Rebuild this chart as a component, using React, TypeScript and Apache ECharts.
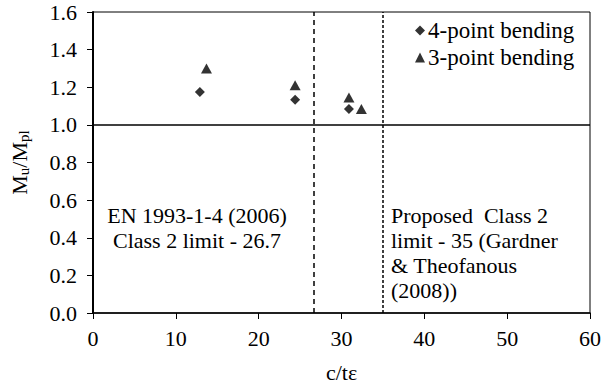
import React, { useEffect, useRef } from "react";
import * as echarts from "echarts";

const fourPointX = [12.9, 24.4, 30.9];
const fourPointY = [1.175, 1.133, 1.084];
const threePointX = [13.7, 24.4, 30.9, 32.4];
const threePointY = [1.30, 1.21, 1.145, 1.084];
const referenceY = 1.0;
const enLimit = 26.7;
const proposedLimit = 35;
const xTicks = { min: 0, max: 60, interval: 10 };
const yTicks = { min: 0, max: 1.6, interval: 0.2 };
const leftNote = ["EN 1993-1-4 (2006)", "Class 2 limit - 26.7"];
const rightNote = ["Proposed  Class 2", "limit - 35 (Gardner", "& Theofanous", "(2008))"];

const SERIF = "Liberation Serif";

export default function App() {
  const ref = useRef<HTMLDivElement>(null);
  useEffect(() => {
    document.body.style.margin = "0";
    if (!ref.current) return;
    const chart = echarts.init(ref.current, undefined, { renderer: "svg" });
    const zip = (xs: number[], ys: number[]) => xs.map((x, i) => [x, ys[i]]);
    chart.setOption({
      animation: false,
      backgroundColor: "#fff",
      textStyle: { fontFamily: SERIF, color: "#000" },
      grid: {
        left: 87,
        right: 14,
        top: 12,
        bottom: 71,
        show: true,
        borderColor: "#000",
        borderWidth: 1,
        backgroundColor: "transparent",
      },
      xAxis: {
        type: "value",
        min: xTicks.min,
        max: xTicks.max,
        interval: xTicks.interval,
        name: "c/tε",
        nameLocation: "middle",
        nameGap: 48,
        nameTextStyle: { fontFamily: SERIF, fontSize: 22, color: "#000" },
        axisLine: { show: true, onZero: false, lineStyle: { color: "#000", width: 1.5 } },
        axisTick: { show: true, inside: false, length: 6, lineStyle: { color: "#000" } },
        axisLabel: { fontFamily: SERIF, fontSize: 22, color: "#000", margin: 14 },
        splitLine: { show: false },
      },
      yAxis: {
        type: "value",
        min: yTicks.min,
        max: yTicks.max,
        interval: yTicks.interval,
        name: "{m|M}{s|u}{m|/M}{s|pl}",
        nameLocation: "middle",
        nameGap: 62,
        nameTextStyle: {
          rich: {
            m: { fontFamily: SERIF, fontSize: 22, color: "#000" },
            s: { fontFamily: SERIF, fontSize: 15, color: "#000", verticalAlign: "bottom", padding: [9, 0, 0, 0] },
          },
        },
        axisLine: { show: true, onZero: false, lineStyle: { color: "#000", width: 2 } },
        axisTick: { show: true, inside: false, length: 6, lineStyle: { color: "#000" } },
        axisLabel: {
          fontFamily: SERIF,
          fontSize: 22,
          color: "#000",
          margin: 16,
          formatter: (v: number) => v.toFixed(1),
        },
        splitLine: { show: false },
      },
      legend: {
        orient: "vertical",
        left: 410,
        top: 14,
        itemWidth: 10,
        itemHeight: 10,
        itemGap: 4,
        textStyle: { fontFamily: SERIF, fontSize: 23, color: "#000", padding: [0, 0, 0, -2] },
        data: [
          { name: "4-point bending", icon: "diamond" },
          { name: "3-point bending", icon: "triangle" },
        ],
      },
      series: [
        {
          name: "4-point bending",
          type: "scatter",
          symbol: "diamond",
          symbolSize: [10, 10],
          itemStyle: { color: "#000" },
          data: zip(fourPointX, fourPointY),
          z: 5,
        },
        {
          name: "3-point bending",
          type: "scatter",
          symbol: "triangle",
          symbolSize: [11, 10],
          itemStyle: { color: "#000" },
          data: zip(threePointX, threePointY),
          z: 5,
        },
        {
          name: "limits",
          type: "line",
          data: [],
          silent: true,
          markLine: {
            silent: true,
            symbol: "none",
            label: { show: false },
            animation: false,
            data: [
              { yAxis: referenceY, lineStyle: { color: "#000", width: 1.5, type: "solid" } },
              { xAxis: enLimit, lineStyle: { color: "#000", width: 1.5, type: [5, 4] } },
              { xAxis: proposedLimit, lineStyle: { color: "#000", width: 1.5, type: [3, 2] } },
            ],
          },
        },
      ],
      graphic: [
        {
          type: "text",
          x: 197,
          y: 203,
          style: {
            text: leftNote.join("\n"),
            font: `22px "Liberation Serif"`,
            fill: "#000",
            align: "center",
            verticalAlign: "top",
            lineHeight: 25,
          },
        },
        {
          type: "text",
          x: 391,
          y: 203,
          style: {
            text: rightNote.join("\n"),
            font: `22px "Liberation Serif"`,
            fill: "#000",
            align: "left",
            verticalAlign: "top",
            lineHeight: 25,
          },
        },
      ],
    });
    return () => chart.dispose();
  }, []);
  return <div ref={ref} style={{ width: 604, height: 388 }} />;
}
